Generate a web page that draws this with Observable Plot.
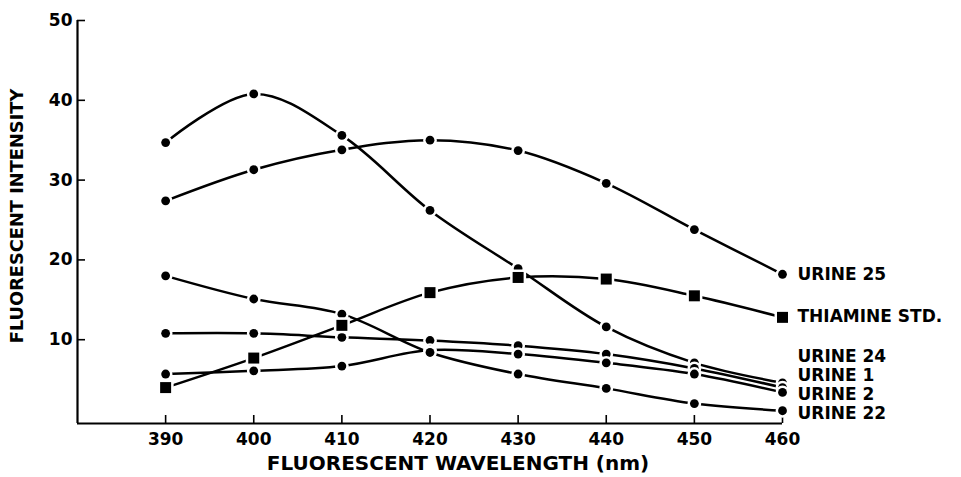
<!DOCTYPE html>
<html><head><meta charset="utf-8">
<script src="https://cdn.jsdelivr.net/npm/d3@7"></script>
<script src="https://cdn.jsdelivr.net/npm/@observablehq/plot@0.6"></script>
<style>
html,body{margin:0;padding:0;background:#fff;}
#chart svg{display:block;}
</style></head><body><div id="chart"></div>
<script>
// Data
const wavelengths = [390, 400, 410, 420, 430, 440, 450, 460];
const urine25  = [27.4, 31.3, 33.8, 35.0, 33.7, 29.6, 23.8, 18.2];
const thiamine = [4.0, 7.7, 11.8, 15.9, 17.8, 17.6, 15.5, 12.8];
const urine24  = [34.7, 40.8, 35.6, 26.2, 18.9, 11.6, 7.1, 4.6];
const urine1   = [10.8, 10.8, 10.3, 9.9, 9.25, 8.2, 6.4, 4.0];
const urine2   = [5.7, 6.1, 6.7, 8.7, 8.2, 7.1, 5.7, 3.4];
const urine22  = [18.0, 15.1, 13.2, 8.4, 5.7, 3.9, 2.0, 1.1];

const seriesNames   = ["URINE 25", "THIAMINE STD.", "URINE 24", "URINE 1", "URINE 2", "URINE 22"];
const seriesValues  = [urine25, thiamine, urine24, urine1, urine2, urine22];
const seriesMarkers = ["circle", "square", "circle", "circle", "circle", "circle"];
const labelAt       = [18.2, 12.9, 7.9, 5.5, 3.1, 0.8]; // intensity where each end label sits

const xTicks = [390, 400, 410, 420, 430, 440, 450, 460];
const yTicks = [10, 20, 30, 40, 50];
const xTitle = "FLUORESCENT WAVELENGTH (nm)";
const yTitle = "FLUORESCENT INTENSITY";

const rows = seriesNames.flatMap((name, i) =>
  wavelengths.map((w, j) => ({series: name, wavelength: w, intensity: seriesValues[i][j], marker: seriesMarkers[i]})));
const labels = seriesNames.map((name, i) => ({series: name, wavelength: wavelengths[wavelengths.length - 1], at: labelAt[i]}));

const chart = Plot.plot({
  width: 961,
  height: 477,
  marginLeft: 77,
  marginRight: 179,
  marginTop: 20,
  marginBottom: 54,
  style: {fontFamily: "DejaVu Sans", fontWeight: "bold", background: "#fff", color: "#000", overflow: "visible"},
  x: {domain: [380, 460]},
  y: {domain: [-0.5, 50]},
  marks: [
    Plot.ruleX([380], {stroke: "#000", strokeWidth: 2.2}),
    Plot.ruleY([-0.5], {stroke: "#000", strokeWidth: 2.2}),
    Plot.axisX({ticks: xTicks, tickSize: -8, tickPadding: 17, tickFormat: d => String(d), fontSize: 17, label: null, strokeWidth: 1.6}),
    Plot.axisY({ticks: yTicks, tickSize: -8, tickPadding: 13, tickFormat: d => String(d), fontSize: 17, label: null, strokeWidth: 1.6}),
    Plot.line(rows, {x: "wavelength", y: "intensity", z: "series", curve: "catmull-rom", stroke: "#000", strokeWidth: 2.5}),
    Plot.dot(rows.filter(d => d.marker === "circle"), {x: "wavelength", y: "intensity", r: 4.4, fill: "#000", stroke: "#fff", strokeWidth: 5, paintOrder: "stroke"}),
    Plot.dot(rows.filter(d => d.marker === "square"), {x: "wavelength", y: "intensity", symbol: "square", r: 6.2, fill: "#000", stroke: "#fff", strokeWidth: 5, paintOrder: "stroke"}),
    Plot.text(labels, {x: "wavelength", y: "at", text: "series", textAnchor: "start", dx: 15, fontSize: 17, fill: "#000"}),
    Plot.text([xTitle], {text: d => d, frameAnchor: "bottom", textAnchor: "middle", lineAnchor: "middle", dx: 28, dy: 40, fontSize: 20, fill: "#000"}),
    Plot.text([yTitle], {text: d => d, frameAnchor: "left", textAnchor: "middle", lineAnchor: "middle", rotate: -90, dx: -60, dy: -6, fontSize: 17.8, fill: "#000"})
  ]
});
document.getElementById("chart").appendChild(chart);
</script>
</body></html>
